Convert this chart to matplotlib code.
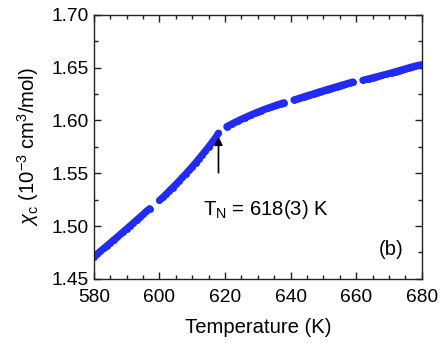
import numpy as np
import matplotlib
matplotlib.use("Agg")
import matplotlib.pyplot as plt
from matplotlib.ticker import MultipleLocator

plt.rcParams['font.family'] = ['Liberation Sans', 'DejaVu Sans']
plt.rcParams['mathtext.fontset'] = 'custom'
plt.rcParams['mathtext.rm'] = 'Liberation Sans'
plt.rcParams['mathtext.it'] = 'Liberation Sans:italic'
plt.rcParams['mathtext.default'] = 'regular'

# Data
temp_1 = [580, 581, 582, 583, 584, 585, 586, 587, 588, 589, 590, 591, 592, 593, 594, 595, 596, 597]
chi_1 = [1.4710, 1.4736, 1.4762, 1.4789, 1.4815, 1.4841, 1.4868, 1.4894, 1.4921, 1.4948,
         1.4975, 1.5002, 1.5029, 1.5057, 1.5084, 1.5111, 1.5139, 1.5166]
temp_2 = [600, 601, 602, 603, 604, 605, 606, 607, 608, 609, 610, 611, 612, 613, 614, 615, 616, 617, 618]
chi_2 = [1.5243, 1.5272, 1.5302, 1.5333, 1.5364, 1.5395, 1.5427, 1.5460, 1.5494, 1.5528,
         1.5563, 1.5599, 1.5636, 1.5674, 1.5712, 1.5751, 1.5791, 1.5832, 1.5880]
temp_3 = [620.5, 621, 622, 623, 624, 625, 626, 627, 628, 629, 630, 631, 632, 633, 634, 635, 636, 637, 638]
chi_3 = [1.5942, 1.5950, 1.5966, 1.5982, 1.5997, 1.6012, 1.6026, 1.6040, 1.6054, 1.6067,
         1.6080, 1.6092, 1.6104, 1.6116, 1.6127, 1.6138, 1.6149, 1.6159, 1.6169]
temp_4 = [641, 642, 643, 644, 645, 646, 647, 648, 649, 650, 651, 652, 653, 654, 655, 656, 657, 658, 659]
chi_4 = [1.6195, 1.6204, 1.6214, 1.6224, 1.6234, 1.6243, 1.6253, 1.6263, 1.6273, 1.6282,
         1.6292, 1.6301, 1.6310, 1.6320, 1.6329, 1.6338, 1.6347, 1.6356, 1.6365]
temp_5 = [662, 663, 664, 665, 666, 667, 668, 669, 670, 671, 672, 673, 674, 675, 676, 677, 678, 679, 680]
chi_5 = [1.6380, 1.6388, 1.6396, 1.6404, 1.6412, 1.6420, 1.6428, 1.6436, 1.6444, 1.6453,
         1.6462, 1.6471, 1.6480, 1.6489, 1.6498, 1.6507, 1.6515, 1.6522, 1.6528]

segments = [(temp_1, chi_1), (temp_2, chi_2), (temp_3, chi_3), (temp_4, chi_4), (temp_5, chi_5)]

x_ticks = [580, 600, 620, 640, 660, 680]
y_ticks = [1.45, 1.50, 1.55, 1.60, 1.65, 1.70]
y_ticklabels = ['1.45', '1.50', '1.55', '1.60', '1.65', '1.70']

T_N = 618
arrow_tip = 1.5845
arrow_tail = 1.5504

fig = plt.figure(figsize=(4.43, 3.43), dpi=100)
ax = fig.add_axes([0.212, 0.187, 0.740, 0.770])

blue = '#1f2bff'
for t, c in segments:
    ax.plot(t, c, 'o', color=blue, markersize=5.0, markeredgewidth=0, linestyle='-', linewidth=5.0,
            solid_capstyle='round')

ax.set_xlim(580, 680)
ax.set_ylim(1.45, 1.70)
ax.set_xticks(x_ticks)
ax.set_yticks(y_ticks)
ax.set_yticklabels(y_ticklabels)
ax.xaxis.set_minor_locator(MultipleLocator(5))
ax.yaxis.set_minor_locator(MultipleLocator(0.025))
ax.tick_params(which='both', direction='in', top=True, right=True, labelsize=13.8, width=1.0, color='#222222')
ax.tick_params(which='major', length=5)
ax.tick_params(which='minor', length=3)
ax.tick_params(axis='x', which='major', pad=7.5)
ax.tick_params(axis='y', which='major', pad=4)
for s in ax.spines.values():
    s.set_linewidth(1.0)
    s.set_color('#222222')

ax.set_xlabel('Temperature (K)', fontsize=14.6, labelpad=8.5)
ax.set_ylabel(r'$\mathit{\chi}_\mathrm{c}$ (10$^{-3}$ cm$^{3}$/mol)', fontsize=14.6, labelpad=7)

ax.annotate('', xy=(T_N, arrow_tip), xytext=(T_N, arrow_tail),
            arrowprops=dict(arrowstyle='-|>', color='black', lw=1.2, mutation_scale=12,
                            shrinkA=0, shrinkB=0))
ax.text(613.2, 1.5105, r'T$_\mathrm{N}$ = 618(3) K', fontsize=14.6, ha='left', va='baseline')
ax.text(674.5, 1.4775, '(b)', fontsize=14.6, ha='right', va='center')

fig.savefig('out.png', dpi=100)
